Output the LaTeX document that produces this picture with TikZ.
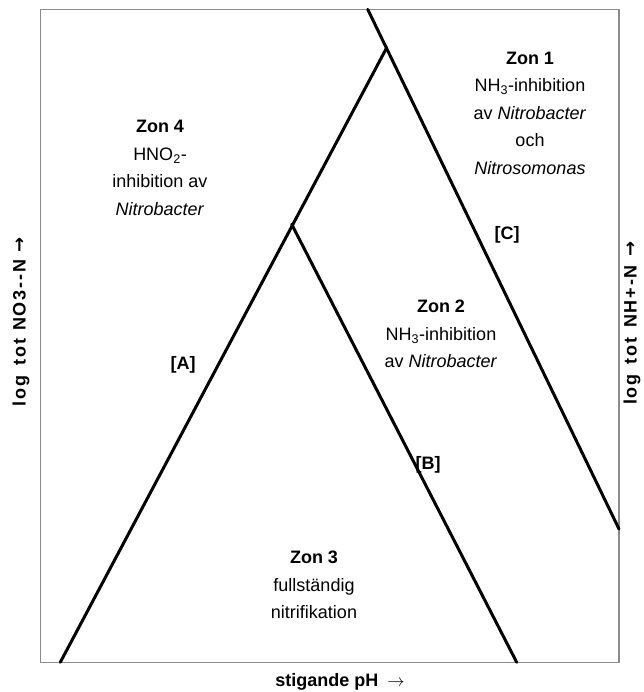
\documentclass[tikz,border=0pt]{standalone}
\usepackage{fontspec}
\setmainfont{Liberation Sans}
\newfontfamily\arrowfont{DejaVu Sans}
\newfontfamily\vlabelfont[LetterSpace=10]{Liberation Sans}
\begin{document}
\begin{tikzpicture}[x=1pt,y=-1pt,
  frame/.style={draw=black!45,line width=1.5pt},
  zoneline/.style={draw=black,line width=3pt},
  zonetext/.style={align=center,inner sep=0pt,font=\fontsize{18}{27.5}\selectfont},
  linelabel/.style={inner sep=0pt,font=\fontsize{18}{22}\selectfont\bfseries},
  axislabel/.style={inner sep=0pt,font=\fontsize{18}{22}\selectfont\bfseries},
  vaxislabel/.style={inner sep=0pt,rotate=90,font=\fontsize{18}{22}\vlabelfont\bfseries}]
\useasboundingbox (0,0) rectangle (643,692);
\fill[white] (0,0) rectangle (643,692);
% frame
\coordinate (F1) at (40.7,9.3);
\coordinate (F2) at (619,662.3);
\draw[frame] (F1) rectangle (F2);
% boundary points
\coordinate (Ctop) at (367.7,9.3);
\coordinate (Cbot) at (619,529);
\coordinate (Abot) at (60.3,662.3);
\coordinate (Atop) at (386.7,47.7);
\coordinate (Bapex) at (291.7,224.3);
\coordinate (Bbot) at (516.7,662.3);
\draw[zoneline,line cap=round] (Ctop) -- (Cbot);
\draw[zoneline,line cap=round] (Abot) -- (Atop);
\draw[zoneline,line cap=round] (Bapex) -- (Bbot);
% zone texts
\node[zonetext] (z1) at (530,113) {\textbf{Zon 1}\\NH\textsubscript{3}-inhibition\\av \textit{Nitrobacter}\\och\\\textit{Nitrosomonas}};
\node[zonetext] (z4) at (160,168) {\textbf{Zon 4}\\HNO\textsubscript{2}-\\inhibition av\\\textit{Nitrobacter}};
\node[zonetext] (z2) at (441,334) {\textbf{Zon 2}\\NH\textsubscript{3}-inhibition\\av \textit{Nitrobacter}};
\node[zonetext] (z3) at (314,585) {\textbf{Zon 3}\\fullständig\\nitrifikation};
% line labels
\node[linelabel] (la) at (183,365) {[A]};
\node[linelabel] (lb) at (428,465) {[B]};
\node[linelabel] (lc) at (507,235) {[C]};
% axis labels
\node[axislabel] (xl) at (340,682) {stigande pH\enspace$\rightarrow$};
\node[vaxislabel] (yl) at (21,322) {log\hspace{10pt}tot\hspace{8pt}NO3-{}-N\hspace{7pt}{\arrowfont\bfseries →}};
\node[vaxislabel] (yr) at (632,323) {log\hspace{10pt}tot\hspace{10pt}NH+-N\hspace{9pt}{\arrowfont\bfseries →}};
\end{tikzpicture}
\end{document}
